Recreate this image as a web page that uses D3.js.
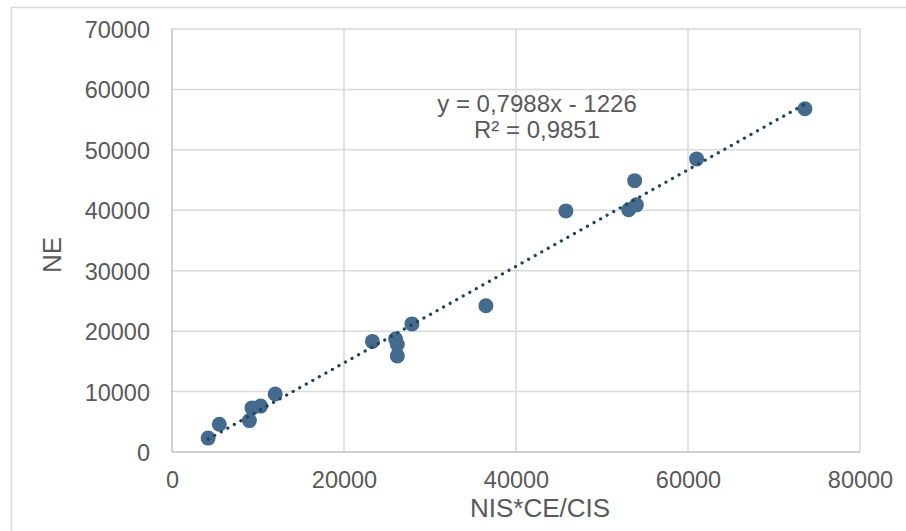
<!DOCTYPE html>
<html>
<head>
<meta charset="utf-8">
<script src="https://cdn.jsdelivr.net/npm/d3@7"></script>
<style>
  body { margin: 0; background: #fff; }
  svg { display: block; font-family: "Liberation Sans", Arial, sans-serif; }
</style>
</head>
<body>
<div class="chart"></div>
<script>
// data
var xVals = [4200, 5500, 9000, 9300, 10300, 12000, 23300, 26000, 26200, 26200, 27900, 36500, 45800, 53100, 54000, 53800, 61000, 73600];
var yVals = [2300, 4600, 5200, 7300, 7600, 9600, 18300, 18700, 17800, 15900, 21200, 24200, 39900, 40100, 40900, 44900, 48500, 56800];
var xTicks = [0, 20000, 40000, 60000, 80000];
var yTicks = [0, 10000, 20000, 30000, 40000, 50000, 60000, 70000];
// trendline as printed on the chart
var slope = 0.7988, intercept = -1226;
var eqLines = ["y = 0,7988x - 1226", "R² = 0,9851"];

var W = 906, H = 531;
var plot = { left: 172, right: 860, top: 29, bottom: 452 };
var textCol = "#595959";

var svg = d3.select(".chart").append("svg")
  .attr("width", W).attr("height", H);

// chart area border
svg.append("rect")
  .attr("x", 11.5).attr("y", 7.5)
  .attr("width", 910).attr("height", 540)
  .attr("fill", "#fff").attr("stroke", "#d9d9d9").attr("stroke-width", 1.5);

var x = d3.scaleLinear().domain([0, 80000]).range([plot.left, plot.right]);
var y = d3.scaleLinear().domain([0, 70000]).range([plot.bottom, plot.top]);

// gridlines
svg.append("g").selectAll("line.h")
  .data(yTicks.slice(1))
  .enter().append("line")
  .attr("x1", plot.left).attr("x2", plot.right)
  .attr("y1", d => y(d)).attr("y2", d => y(d))
  .attr("stroke", "#d9d9d9").attr("stroke-width", 1.5);

svg.append("g").selectAll("line.v")
  .data(xTicks.slice(1))
  .enter().append("line")
  .attr("y1", plot.top).attr("y2", plot.bottom)
  .attr("x1", d => x(d)).attr("x2", d => x(d))
  .attr("stroke", "#d9d9d9").attr("stroke-width", 1.5);

// axes (labels only, lines drawn separately)
var xAxis = d3.axisBottom(x).tickValues(xTicks).tickSize(0).tickPadding(0).tickFormat(d3.format("d"));
var yAxis = d3.axisLeft(y).tickValues(yTicks).tickSize(0).tickPadding(0).tickFormat(d3.format("d"));

var gx = svg.append("g").attr("transform", `translate(0, ${plot.bottom})`).call(xAxis);
gx.select(".domain").remove();
gx.selectAll("text")
  .attr("y", 36).attr("dy", 0)
  .style("font-size", "23.5px").attr("fill", textCol)
  .attr("font-family", "Liberation Sans, Arial, sans-serif");

var gy = svg.append("g").attr("transform", `translate(${plot.left}, 0)`).call(yAxis);
gy.select(".domain").remove();
gy.selectAll("text")
  .attr("x", -22).attr("dy", "0.36em")
  .style("font-size", "23.5px").attr("fill", textCol)
  .attr("font-family", "Liberation Sans, Arial, sans-serif");

// axis lines
svg.append("line")
  .attr("x1", plot.left).attr("x2", plot.right)
  .attr("y1", plot.bottom).attr("y2", plot.bottom)
  .attr("stroke", "#bfbfbf").attr("stroke-width", 1.5);
svg.append("line")
  .attr("x1", plot.left).attr("x2", plot.left)
  .attr("y1", plot.top).attr("y2", plot.bottom)
  .attr("stroke", "#bfbfbf").attr("stroke-width", 1.5);

// axis titles
svg.append("text")
  .attr("x", 540).attr("y", 517)
  .attr("text-anchor", "middle")
  .attr("fill", textCol).style("font-size", "26px")
  .text("NIS*CE/CIS");

svg.append("text")
  .attr("transform", "translate(61, 255) rotate(-90)")
  .attr("text-anchor", "middle")
  .attr("fill", textCol).style("font-size", "26px")
  .text("NE");

// points
var pts = xVals.map((v, i) => ({ x: v, y: yVals[i] }));
svg.append("g").selectAll("circle")
  .data(pts)
  .enter().append("circle")
  .attr("cx", d => x(d.x)).attr("cy", d => y(d.y))
  .attr("r", 7.5)
  .attr("fill", "#446a8d");

// linear trendline from min to max x
var xr = d3.extent(xVals);
svg.append("line")
  .attr("x1", x(xr[0])).attr("y1", y(slope * xr[0] + intercept))
  .attr("x2", x(xr[1])).attr("y2", y(slope * xr[1] + intercept))
  .attr("stroke", "#1e4658").attr("stroke-width", 3.2)
  .attr("stroke-linecap", "round")
  .attr("stroke-dasharray", "0.1 7.4");

// equation label
svg.append("g").selectAll("text")
  .data(eqLines)
  .enter().append("text")
  .attr("x", 537).attr("y", (d, i) => 112 + i * 26)
  .attr("text-anchor", "middle")
  .attr("fill", textCol).style("font-size", "24px")
  .text(d => d);
</script>
</body>
</html>
